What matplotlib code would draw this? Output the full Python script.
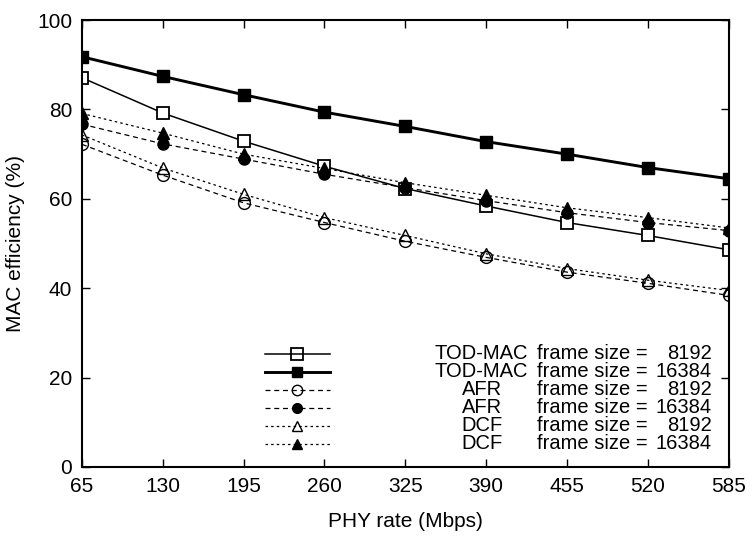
import matplotlib
matplotlib.use('Agg')
import matplotlib.pyplot as plt
from matplotlib.lines import Line2D

plt.rcParams['font.family'] = ['Liberation Sans', 'DejaVu Sans']

# PHY rates (Mbps) and MAC efficiency (%) per scheme / frame size
phy_rate = [65, 130, 195, 260, 325, 390, 455, 520, 585]
tod_8192 = [87.1, 79.2, 72.9, 67.3, 62.3, 58.4, 54.7, 51.8, 48.6]
tod_16384 = [91.8, 87.4, 83.3, 79.4, 76.2, 72.8, 70.0, 67.0, 64.5]
afr_8192 = [72.2, 65.3, 59.1, 54.7, 50.5, 46.9, 43.6, 41.1, 38.4]
afr_16384 = [76.7, 72.3, 68.9, 65.5, 62.5, 59.6, 56.9, 54.7, 52.9]
dcf_8192 = [74.3, 66.9, 61.0, 55.8, 51.8, 47.7, 44.4, 41.8, 39.5]
dcf_16384 = [79.1, 74.7, 70.0, 66.8, 63.6, 60.8, 58.0, 55.8, 53.5]

names = ['TOD-MAC', 'TOD-MAC', 'AFR', 'AFR', 'DCF', 'DCF']
sizes = ['8192', '16384', '8192', '16384', '8192', '16384']

FS = 15
KEY_FS = 14.5
dashed = (0, (4, 3))
dotted = (0, (2, 2.5))
styles = [
    dict(ls='-', lw=1.1, marker='s', ms=9, mfc='white', mew=1.3),
    dict(ls='-', lw=2.1, marker='s', ms=8, mfc='black', mew=1.0),
    dict(ls=dashed, lw=0.9, marker='o', ms=8.5, mfc='none', mew=1.0),
    dict(ls=dashed, lw=0.9, marker='o', ms=8, mfc='black', mew=1.0),
    dict(ls=dotted, lw=0.9, marker='^', ms=8, mfc='none', mew=1.0),
    dict(ls=dotted, lw=0.9, marker='^', ms=8, mfc='black', mew=1.0),
]
series = [tod_8192, tod_16384, afr_8192, afr_16384, dcf_8192, dcf_16384]

fig = plt.figure(figsize=(7.52, 5.43), dpi=100)
ax = fig.add_axes([0.109, 0.140, 0.860, 0.823])

for ys, st in zip(series, styles):
    ax.plot(phy_rate, ys, color='black', mec='black', **st)

ax.set_xlim(65, 585)
ax.set_ylim(0, 100)
ax.set_xticks(phy_rate)
ax.set_yticks([0, 20, 40, 60, 80, 100])
ax.tick_params(direction='in', length=6, width=1.0, labelsize=FS,
               top=True, right=True, pad=7)
for s in ax.spines.values():
    s.set_linewidth(1.5)
ax.set_xlabel('PHY rate (Mbps)', fontsize=FS, labelpad=12)
ax.set_ylabel('MAC efficiency (%)', fontsize=FS, labelpad=9)

# hand-built key: sample line, centred name, "frame size =", right-aligned size
row0 = 0.253
step = 0.0403
for i, st in enumerate(styles):
    y = row0 - i * step
    ax.add_line(Line2D([0.283, 0.383], [y, y], transform=ax.transAxes,
                       color='black', ls=st['ls'], lw=st['lw']))
    ax.add_line(Line2D([0.333], [y], transform=ax.transAxes, ls='none',
                       marker=st['marker'], ms=st['ms'] - 1,
                       mfc='black' if st['mfc'] == 'black' else 'none',
                       mec='black', mew=st['mew']))
    ax.text(0.618, y, names[i], transform=ax.transAxes, ha='center',
            va='center', fontsize=KEY_FS)
    ax.text(0.703, y, 'frame size =', transform=ax.transAxes, ha='left',
            va='center', fontsize=KEY_FS)
    ax.text(0.974, y, sizes[i], transform=ax.transAxes, ha='right',
            va='center', fontsize=KEY_FS)

fig.savefig('out.png', dpi=100)
